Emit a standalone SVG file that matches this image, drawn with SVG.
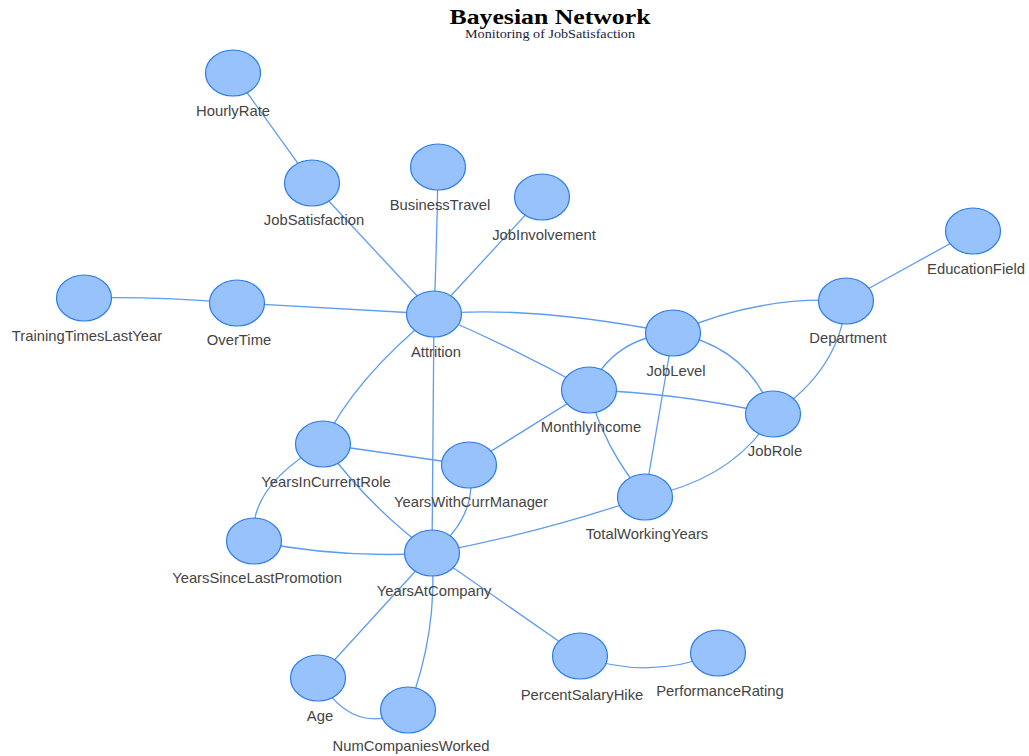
<svg xmlns="http://www.w3.org/2000/svg" width="1029" height="756" viewBox="0 0 1029 756">
  <style>
    .edge { fill: none; stroke: #5f9bf0; stroke-width: 1.3; }
    .node ellipse { fill: #97c2fc; stroke: #2b7ce9; stroke-width: 1.2; }
    .node text { font-family: "Liberation Sans", Arial, sans-serif; font-size: 14.8px; fill: #444; text-anchor: middle; }
    .title { font-family: "Liberation Serif", "Times New Roman", serif; text-anchor: middle; }
  </style>
  <rect width="1029" height="756" fill="#ffffff"/>

  <text class="title" x="550" y="24" font-size="20" font-weight="bold" fill="#000" textLength="201" lengthAdjust="spacingAndGlyphs">Bayesian Network</text>
  <text class="title" x="550" y="38" font-size="12" fill="#1c1c3a" textLength="170" lengthAdjust="spacingAndGlyphs">Monitoring of JobSatisfaction</text>

  <g id="edges">
    <path class="edge" d="M233,73 L312,183"/>
    <path class="edge" d="M312,183 L434,314"/>
    <path class="edge" d="M438,167 Q437,240 434,314"/>
    <path class="edge" d="M542,197 L434,314"/>
    <path class="edge" d="M84,298 Q150,296 237,303"/>
    <path class="edge" d="M237,303 L434,314"/>
    <path class="edge" d="M434,314 Q530,305 673,333"/>
    <path class="edge" d="M434,314 Q515,348 589,390"/>
    <path class="edge" d="M434,314 Q354,379 323,444"/>
    <path class="edge" d="M434,314 L432,553"/>
    <path class="edge" d="M673,333 Q760,295 846,301"/>
    <path class="edge" d="M846,301 L973,231"/>
    <path class="edge" d="M846,301 Q840,370 773,414"/>
    <path class="edge" d="M673,333 Q747,346 773,414"/>
    <path class="edge" d="M673,333 Q613,338 589,390"/>
    <path class="edge" d="M673,333 L645,497"/>
    <path class="edge" d="M589,390 Q680,393 773,414"/>
    <path class="edge" d="M589,390 Q603,447 645,497"/>
    <path class="edge" d="M589,390 L469,465"/>
    <path class="edge" d="M773,414 Q735,479 645,497"/>
    <path class="edge" d="M645,497 Q540,533 432,553"/>
    <path class="edge" d="M323,444 L469,465"/>
    <path class="edge" d="M323,444 Q370,508 432,553"/>
    <path class="edge" d="M323,444 Q247,487 254,541"/>
    <path class="edge" d="M254,541 Q340,559 432,553"/>
    <path class="edge" d="M469,465 Q480,515 432,553"/>
    <path class="edge" d="M432,553 L318,678"/>
    <path class="edge" d="M432,553 Q438,632 408,710"/>
    <path class="edge" d="M432,553 L580,656"/>
    <path class="edge" d="M318,678 Q353,738 408,710"/>
    <path class="edge" d="M580,656 Q649,681 718,653"/>
  </g>

  <g id="HourlyRate" class="node"><ellipse cx="233" cy="73" rx="27.5" ry="23"/><text x="233" y="116">HourlyRate</text></g>
  <g id="JobSatisfaction" class="node"><ellipse cx="312" cy="183" rx="27.5" ry="23"/><text x="314" y="225">JobSatisfaction</text></g>
  <g id="BusinessTravel" class="node"><ellipse cx="438" cy="167" rx="27.5" ry="23"/><text x="440" y="210">BusinessTravel</text></g>
  <g id="JobInvolvement" class="node"><ellipse cx="542" cy="197" rx="27.5" ry="23"/><text x="544" y="240">JobInvolvement</text></g>
  <g id="EducationField" class="node"><ellipse cx="973" cy="231" rx="27.5" ry="23"/><text x="976" y="274">EducationField</text></g>
  <g id="TrainingTimesLastYear" class="node"><ellipse cx="84" cy="298" rx="27.5" ry="23"/><text x="87" y="341">TrainingTimesLastYear</text></g>
  <g id="OverTime" class="node"><ellipse cx="237" cy="303" rx="27.5" ry="23"/><text x="239" y="345">OverTime</text></g>
  <g id="Attrition" class="node"><ellipse cx="434" cy="314" rx="27.5" ry="23"/><text x="436" y="357">Attrition</text></g>
  <g id="Department" class="node"><ellipse cx="846" cy="301" rx="27.5" ry="23"/><text x="848" y="343">Department</text></g>
  <g id="JobLevel" class="node"><ellipse cx="673" cy="333" rx="27.5" ry="23"/><text x="676" y="376">JobLevel</text></g>
  <g id="MonthlyIncome" class="node"><ellipse cx="589" cy="390" rx="27.5" ry="23"/><text x="591" y="432">MonthlyIncome</text></g>
  <g id="JobRole" class="node"><ellipse cx="773" cy="414" rx="27.5" ry="23"/><text x="775" y="456">JobRole</text></g>
  <g id="YearsInCurrentRole" class="node"><ellipse cx="323" cy="444" rx="27.5" ry="23"/><text x="326" y="487">YearsInCurrentRole</text></g>
  <g id="YearsWithCurrManager" class="node"><ellipse cx="469" cy="465" rx="27.5" ry="23"/><text x="471" y="507">YearsWithCurrManager</text></g>
  <g id="TotalWorkingYears" class="node"><ellipse cx="645" cy="497" rx="27.5" ry="23"/><text x="647" y="539">TotalWorkingYears</text></g>
  <g id="YearsSinceLastPromotion" class="node"><ellipse cx="254" cy="541" rx="27.5" ry="23"/><text x="257" y="583">YearsSinceLastPromotion</text></g>
  <g id="YearsAtCompany" class="node"><ellipse cx="432" cy="553" rx="27.5" ry="23"/><text x="434" y="596">YearsAtCompany</text></g>
  <g id="PercentSalaryHike" class="node"><ellipse cx="580" cy="656" rx="27.5" ry="23"/><text x="582" y="700">PercentSalaryHike</text></g>
  <g id="PerformanceRating" class="node"><ellipse cx="718" cy="653" rx="27.5" ry="23"/><text x="720" y="696">PerformanceRating</text></g>
  <g id="Age" class="node"><ellipse cx="318" cy="678" rx="27.5" ry="23"/><text x="320" y="721">Age</text></g>
  <g id="NumCompaniesWorked" class="node"><ellipse cx="408" cy="710" rx="27.5" ry="23"/><text x="411" y="751">NumCompaniesWorked</text></g>
</svg>
